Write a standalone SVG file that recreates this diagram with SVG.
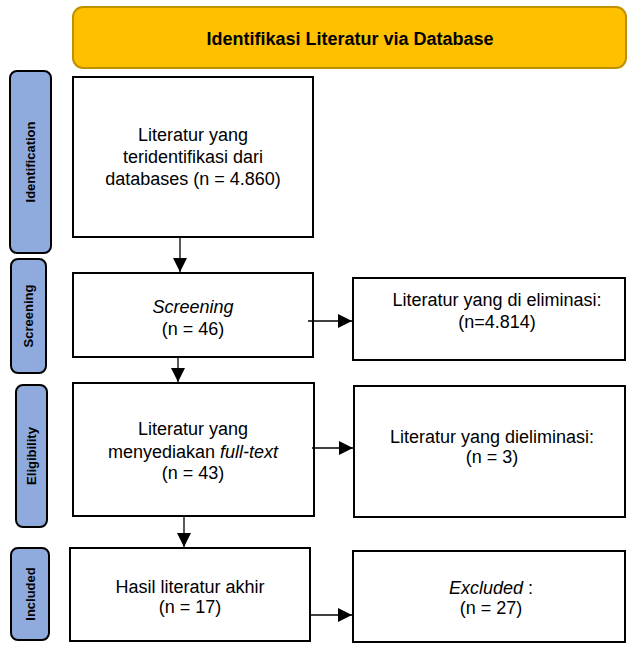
<svg xmlns="http://www.w3.org/2000/svg" width="627" height="646" viewBox="0 0 627 646">
<defs>
<marker id="ah" viewBox="0 0 14 14" refX="14" refY="7" markerWidth="14" markerHeight="14" markerUnits="userSpaceOnUse" orient="auto">
<path d="M0,0 L14,7 L0,14 Z" fill="#000"/>
</marker>
</defs>
<style>
.box{fill:#fff;stroke:#000;stroke-width:2}
.side{fill:#8FAADC;stroke:#000;stroke-width:2}
.hdr{fill:#FFC000;stroke:#BF9000;stroke-width:2}
.t{font-family:"Liberation Sans",Arial,sans-serif;font-size:18px;fill:#000;text-anchor:middle}
.st{font-family:"Liberation Sans",Arial,sans-serif;font-size:13px;font-weight:bold;fill:#000;text-anchor:middle}
.ht{font-family:"Liberation Sans",Arial,sans-serif;font-size:18px;font-weight:bold;fill:#000;text-anchor:middle}
.c{stroke:#000;stroke-width:1.3;fill:none;marker-end:url(#ah)}
</style>
<g id="header">
<rect class="hdr" x="73" y="7" width="553" height="61" rx="10"/>
<text class="ht" x="350" y="45">Identifikasi Literatur via Database</text>
</g>
<g id="side-identification">
<rect class="side" x="10" y="71" width="41" height="182" rx="7"/>
<text class="st" transform="translate(35,162) rotate(-90)">Identification</text>
</g>
<g id="side-screening">
<rect class="side" x="11" y="259" width="35" height="114" rx="7"/>
<text class="st" transform="translate(33,316) rotate(-90)">Screening</text>
</g>
<g id="side-eligibility">
<rect class="side" x="16" y="385" width="31" height="142" rx="7"/>
<text class="st" transform="translate(36,456) rotate(-90)">Eligibility</text>
</g>
<g id="side-included">
<rect class="side" x="11" y="548" width="38" height="92" rx="7"/>
<text class="st" transform="translate(35,594) rotate(-90)">Included</text>
</g>
<g id="box-identified">
<rect class="box" x="73" y="77" width="240" height="160"/>
<text class="t" x="193" y="141">Literatur yang</text>
<text class="t" x="193" y="163">teridentifikasi dari</text>
<text class="t" x="193" y="185">databases (n = 4.860)</text>
</g>
<g id="box-screening">
<rect class="box" x="73" y="273" width="240" height="84"/>
<text class="t" x="193" y="313" font-style="italic">Screening</text>
<text class="t" x="193" y="335">(n = 46)</text>
</g>
<g id="box-elim1">
<rect class="box" x="353" y="278" width="272" height="82"/>
<text class="t" x="497" y="306">Literatur yang di eliminasi:</text>
<text class="t" x="497" y="328">(n=4.814)</text>
</g>
<g id="box-fulltext">
<rect class="box" x="73" y="383" width="241" height="133"/>
<text class="t" x="193" y="435">Literatur yang</text>
<text class="t" x="193" y="458">menyediakan <tspan font-style="italic">full-text</tspan></text>
<text class="t" x="193" y="479">(n = 43)</text>
</g>
<g id="box-elim2">
<rect class="box" x="354" y="386" width="271" height="131"/>
<text class="t" x="492" y="443">Literatur yang dieliminasi:</text>
<text class="t" x="492" y="463">(n = 3)</text>
</g>
<g id="box-final">
<rect class="box" x="70" y="548" width="240" height="93"/>
<text class="t" x="190" y="593">Hasil literatur akhir</text>
<text class="t" x="190" y="613">(n = 17)</text>
</g>
<g id="box-excluded">
<rect class="box" x="353" y="551" width="272" height="91"/>
<text class="t" x="491" y="594"><tspan font-style="italic">Excluded</tspan> :</text>
<text class="t" x="491" y="614">(n = 27)</text>
</g>
<g id="connectors">
<line class="c" x1="180" y1="237" x2="180" y2="272"/>
<line class="c" x1="178" y1="357" x2="178" y2="382"/>
<line class="c" x1="184" y1="516" x2="184" y2="547"/>
<line class="c" x1="308" y1="321" x2="352" y2="321"/>
<line class="c" x1="312" y1="448" x2="353" y2="448"/>
<line class="c" x1="310" y1="615" x2="352" y2="615"/>
</g>
</svg>
